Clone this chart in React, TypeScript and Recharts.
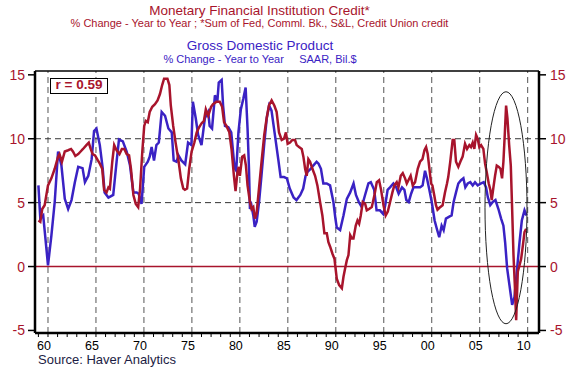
import React from 'react';
import { LineChart, Line, XAxis, YAxis, ReferenceLine, ReferenceDot } from 'recharts';

const RED = '#A8142C';
const BLUE = '#3A22C4';

// [year, % change y/y]
const gdpPoints: [number, number][] = [
  [1959.0, 6.35], [1959.2, 3.75], [1959.5, 4.0], [1960.0, 0.1], [1960.35, 2.4], [1960.7, 5.05],
  [1961.05, 9.0], [1961.4, 7.9], [1961.75, 5.3], [1962.1, 4.5], [1962.45, 5.2], [1962.8, 6.6],
  [1963.15, 7.8], [1963.6, 7.7], [1963.85, 6.6], [1964.2, 7.1], [1964.55, 8.4], [1964.8, 10.6],
  [1965.05, 10.8], [1965.4, 9.5], [1965.7, 7.7], [1965.9, 5.8], [1966.3, 5.4], [1966.8, 5.6],
  [1967.15, 8.2], [1967.4, 9.95], [1967.8, 9.8], [1968.2, 9.0], [1968.55, 7.9], [1968.9, 5.8],
  [1969.25, 5.8], [1969.45, 5.7], [1969.75, 4.9], [1970.03, 7.8], [1970.4, 8.2], [1970.6, 8.6],
  [1970.8, 9.35], [1971.05, 8.3], [1971.3, 9.5], [1971.55, 9.7], [1971.85, 12.1], [1972.2, 11.8],
  [1972.55, 10.8], [1972.9, 10.5], [1973.1, 8.3], [1973.4, 8.2], [1973.6, 8.7], [1973.9, 8.3],
  [1974.3, 8.0], [1974.6, 9.7], [1974.95, 9.5], [1975.1, 12.9], [1975.4, 11.6], [1975.65, 10.3],
  [1976.0, 9.5], [1976.35, 11.6], [1976.7, 12.1], [1976.85, 11.0], [1977.1, 10.8], [1977.4, 13.4],
  [1977.65, 12.9], [1977.8, 14.4], [1978.1, 14.6], [1978.25, 12.6], [1978.45, 11.0], [1978.8, 10.9],
  [1979.1, 10.5], [1979.45, 7.7], [1979.62, 7.5], [1979.85, 10.5], [1980.1, 12.3], [1980.35, 13.1],
  [1980.6, 14.0], [1980.8, 10.8], [1980.95, 7.65], [1981.05, 4.5], [1981.2, 4.8], [1981.4, 4.0],
  [1981.55, 3.1], [1981.75, 3.5], [1982.0, 5.05], [1982.25, 7.1], [1982.55, 9.7], [1982.8, 11.6],
  [1983.05, 12.6], [1983.3, 12.2], [1983.65, 10.3], [1984.0, 8.4], [1984.25, 7.0], [1984.6, 7.0],
  [1984.9, 6.9], [1985.2, 6.1], [1985.6, 5.4], [1985.9, 5.2], [1986.3, 5.6], [1986.6, 6.1],
  [1986.85, 7.1], [1987.05, 7.4], [1987.4, 7.65], [1987.65, 7.9], [1988.0, 8.2], [1988.2, 8.05],
  [1988.45, 7.65], [1988.7, 6.5], [1989.05, 6.5], [1989.4, 6.35], [1989.75, 5.05], [1989.95, 3.8],
  [1990.1, 3.05], [1990.45, 2.85], [1990.8, 4.0], [1991.15, 5.3], [1991.5, 5.8], [1991.85, 6.5],
  [1992.1, 5.6], [1992.4, 5.05], [1992.7, 4.65], [1993.05, 5.6], [1993.4, 6.5], [1993.65, 6.6],
  [1994.0, 6.0], [1994.25, 4.4], [1994.6, 4.4], [1994.95, 4.1], [1995.15, 4.8], [1995.4, 6.0],
  [1995.65, 6.2], [1996.0, 6.5], [1996.3, 6.2], [1996.55, 5.7], [1996.9, 6.2], [1997.15, 6.0],
  [1997.35, 5.2], [1997.6, 5.05], [1997.85, 5.7], [1998.1, 6.2], [1998.45, 6.2], [1998.8, 6.2],
  [1999.05, 6.35], [1999.3, 7.5], [1999.5, 6.9], [1999.75, 6.0], [2000.0, 5.05], [2000.3, 3.6],
  [2000.55, 2.9], [2000.78, 2.3], [2001.03, 3.2], [2001.24, 2.85], [2001.48, 3.75], [2001.83, 3.9],
  [2002.07, 4.0], [2002.28, 5.05], [2002.53, 5.8], [2002.77, 6.5], [2003.05, 6.75], [2003.3, 6.9],
  [2003.5, 6.2], [2003.75, 6.5], [2004.02, 6.6], [2004.27, 6.35], [2004.51, 6.6], [2004.79, 6.35],
  [2005.14, 6.5], [2005.42, 6.6], [2005.66, 6.2], [2005.84, 5.45], [2006.1, 4.8], [2006.36, 5.05],
  [2006.64, 5.2], [2006.95, 4.5], [2007.23, 3.75], [2007.47, 3.2], [2007.65, 1.9], [2007.86, -0.15],
  [2008.1, -1.45], [2008.38, -3.0], [2008.62, -2.4], [2008.9, -0.15], [2009.15, 1.9], [2009.39, 3.6],
  [2009.67, 4.4], [2009.88, 4.0],
];

const creditPoints: [number, number][] = [
  [1959.0, 3.6], [1959.2, 3.5], [1959.4, 4.5], [1959.65, 4.8], [1960.0, 6.35], [1960.35, 6.9],
  [1960.7, 7.65], [1961.05, 8.6], [1961.2, 8.8], [1961.45, 8.2], [1961.75, 9.0], [1962.1, 9.1],
  [1962.4, 9.2], [1962.6, 9.0], [1962.85, 8.65], [1963.15, 8.8], [1963.4, 9.0], [1963.65, 9.2],
  [1964.0, 9.5], [1964.25, 9.7], [1964.45, 9.2], [1964.65, 8.8], [1964.9, 8.7], [1965.2, 8.3],
  [1965.4, 8.05], [1965.65, 7.65], [1965.85, 6.0], [1966.1, 5.8], [1966.3, 6.2], [1966.45, 6.1],
  [1966.7, 8.2], [1966.9, 9.5], [1967.15, 9.1], [1967.45, 8.8], [1967.7, 9.2], [1967.95, 9.2],
  [1968.2, 8.8], [1968.45, 8.7], [1968.65, 7.65], [1968.9, 5.6], [1969.15, 4.9], [1969.4, 4.65],
  [1969.6, 6.1], [1969.83, 9.0], [1970.03, 11.0], [1970.2, 11.4], [1970.4, 11.3], [1970.6, 12.1],
  [1970.87, 12.5], [1971.15, 12.7], [1971.42, 13.0], [1971.67, 13.5], [1971.9, 14.2], [1972.1, 14.7],
  [1972.45, 14.7], [1972.65, 14.2], [1972.8, 12.6], [1973.05, 11.0], [1973.3, 9.7], [1973.6, 8.3],
  [1973.85, 6.9], [1974.1, 6.1], [1974.27, 6.0], [1974.5, 6.1], [1974.72, 7.65], [1974.97, 9.0],
  [1975.25, 9.7], [1975.5, 10.5], [1975.75, 10.9], [1976.0, 11.2], [1976.25, 11.4], [1976.45, 12.3],
  [1976.7, 11.8], [1977.0, 12.5], [1977.2, 12.7], [1977.57, 12.9], [1977.9, 12.9], [1978.15, 12.5],
  [1978.35, 11.3], [1978.6, 11.0], [1978.9, 10.5], [1979.13, 9.2], [1979.38, 7.1], [1979.55, 5.9],
  [1979.75, 7.4], [1979.88, 7.8], [1980.0, 7.1], [1980.24, 8.6], [1980.45, 8.7], [1980.63, 7.9],
  [1980.8, 6.35], [1981.05, 5.05], [1981.22, 4.5], [1981.4, 4.65], [1981.57, 3.75], [1981.74, 4.15],
  [1981.99, 6.1], [1982.26, 8.2], [1982.54, 10.3], [1982.79, 11.6], [1983.03, 12.6], [1983.31, 13.0],
  [1983.59, 12.6], [1983.83, 12.1], [1984.08, 10.5], [1984.36, 9.9], [1984.6, 10.0], [1984.8, 10.5],
  [1984.98, 9.6], [1985.23, 9.7], [1985.47, 9.9], [1985.75, 9.9], [1985.92, 9.5], [1986.17, 9.35],
  [1986.45, 9.2], [1986.62, 8.6], [1986.8, 7.65], [1986.97, 7.1], [1987.14, 8.4], [1987.32, 8.2],
  [1987.56, 7.65], [1987.84, 7.1], [1988.08, 6.35], [1988.36, 5.05], [1988.6, 4.0], [1988.81, 2.6],
  [1989.06, 2.6], [1989.23, 1.9], [1989.41, 1.55], [1989.65, 1.0], [1989.86, 0.6], [1990.1, -0.95],
  [1990.35, -1.45], [1990.63, -1.7], [1990.8, -0.8], [1990.97, -0.15], [1991.15, 0.5], [1991.32, 0.9],
  [1991.5, 2.45], [1991.67, 2.2], [1991.84, 2.2], [1992.08, 3.2], [1992.26, 3.6], [1992.43, 3.35],
  [1992.6, 4.0], [1992.81, 5.05], [1993.06, 4.9], [1993.23, 4.4], [1993.47, 4.5], [1993.75, 4.65],
  [1994.03, 5.6], [1994.27, 6.6], [1994.51, 6.75], [1994.72, 6.0], [1994.97, 4.8], [1995.2, 4.0],
  [1995.42, 4.3], [1995.66, 5.05], [1995.9, 5.8], [1996.1, 6.35], [1996.35, 6.6], [1996.53, 6.2],
  [1996.77, 7.1], [1996.98, 7.3], [1997.22, 6.9], [1997.4, 6.5], [1997.57, 6.75], [1997.8, 7.1],
  [1998.02, 6.35], [1998.26, 6.6], [1998.54, 7.65], [1998.78, 8.2], [1999.03, 8.4], [1999.24, 9.1],
  [1999.41, 9.35], [1999.58, 8.8], [1999.76, 7.65], [1999.93, 6.5], [2000.07, 6.35], [2000.28, 5.5],
  [2000.44, 4.8], [2000.6, 4.45], [2000.8, 4.6], [2001.13, 4.8], [2001.38, 5.8], [2001.59, 6.5],
  [2001.72, 7.0], [2001.93, 8.2], [2002.18, 9.9], [2002.35, 9.9], [2002.53, 8.2], [2002.77, 7.8],
  [2002.98, 8.2], [2003.22, 8.6], [2003.47, 9.6], [2003.68, 9.2], [2003.92, 9.5], [2004.09, 9.35],
  [2004.27, 9.7], [2004.44, 9.2], [2004.62, 10.3], [2004.79, 10.0], [2004.96, 9.35], [2005.14, 9.5],
  [2005.38, 9.2], [2005.56, 8.05], [2005.73, 7.4], [2005.94, 6.5], [2006.11, 6.0], [2006.25, 5.2],
  [2006.43, 6.2], [2006.6, 7.1], [2006.78, 7.9], [2006.99, 7.8], [2007.16, 7.65], [2007.33, 6.9],
  [2007.47, 8.2], [2007.61, 10.3], [2007.75, 12.6], [2007.89, 11.6], [2008.07, 9.5], [2008.24, 7.9],
  [2008.38, 4.5], [2008.52, 0.9], [2008.66, -1.45], [2008.8, -4.2], [2008.97, -0.4], [2009.15, 0.1],
  [2009.32, 0.6], [2009.5, 1.65], [2009.67, 2.7], [2009.84, 2.95],
];

const yTicks = [-5, 0, 5, 10, 15];
const yearTicks = Array.from({ length: 52 }, (_, i) => 1959 + i);
const gridYears = [1960, 1965, 1970, 1975, 1980, 1985, 1990, 1995, 2000, 2005, 2010];
const yDomain: [number, number] = [-5.2, 15.3];
const xDomain: [number, number] = [1958.645, 2011.18];

const gdpData = gdpPoints.map(([t, v]) => ({ t, v }));
const creditData = creditPoints.map(([t, v]) => ({ t, v }));

const font = '"Liberation Sans", Arial, sans-serif';

const YearTick = (props: any) => {
  const { x, y, payload } = props;
  if (payload.value % 5 !== 0) return null;
  const label = String(payload.value).slice(2);
  return (
    <text x={x - 4} y={y} dy={11} textAnchor="middle" fontSize={12.5} fill="#000" fontFamily={font}>
      {label}
    </text>
  );
};

const Oval = (props: any) => (
  <ellipse cx={props.cx} cy={props.cy} rx={21} ry={116} fill="none" stroke="#222" strokeWidth={1} />
);

export default function App() {
  return (
    <div style={{ position: 'absolute', left: 0, top: 0, width: 580, height: 371, background: '#fff', fontFamily: font }}>
      <div style={{ position: 'absolute', left: 0, width: 519, top: 4.4, textAlign: 'center', fontSize: 13.5, lineHeight: '13.5px', color: RED }}>
        Monetary Financial Institution Credit*
      </div>
      <div style={{ position: 'absolute', left: 0, width: 519, top: 17.9, textAlign: 'center', fontSize: 11, lineHeight: '11px', color: RED }}>
        % Change - Year to Year ; *Sum of Fed, Comml. Bk., S&amp;L, Credit Union credit
      </div>
      <div style={{ position: 'absolute', left: 0, width: 520, top: 39.1, textAlign: 'center', fontSize: 13.5, lineHeight: '13.5px', color: BLUE }}>
        Gross Domestic Product
      </div>
      <div style={{ position: 'absolute', left: 0, width: 520, top: 53.6, textAlign: 'center', fontSize: 11, lineHeight: '11px', color: BLUE, whiteSpace: 'pre' }}>
        {'% Change - Year to Year     SAAR, Bil.$'}
      </div>

      <LineChart width={580} height={371} margin={{ top: 71, right: 0, bottom: 0, left: 0 }}>
        <XAxis
          dataKey="t"
          type="number"
          domain={xDomain}
          ticks={yearTicks}
          allowDataOverflow
          height={38}
          tickSize={4}
          tickMargin={2}
          tick={<YearTick />}
          tickLine={{ stroke: '#000' }}
          axisLine={{ stroke: '#000', strokeWidth: 2.5 }}
          interval={0}
        />
        <YAxis
          yAxisId="l"
          type="number"
          domain={yDomain}
          ticks={yTicks}
          allowDataOverflow
          width={35}
          tickSize={7}
          tickMargin={3}
          tick={{ fill: RED, fontSize: 14, fontFamily: font }}
          tickLine={{ stroke: '#000', strokeWidth: 1.5 }}
          axisLine={{ stroke: '#000', strokeWidth: 2.5 }}
          interval={0}
        />
        <YAxis
          yAxisId="r"
          orientation="right"
          type="number"
          domain={yDomain}
          ticks={yTicks}
          allowDataOverflow
          width={41}
          tickSize={7}
          tickMargin={4}
          tick={{ fill: RED, fontSize: 14, fontFamily: font }}
          tickLine={{ stroke: '#000', strokeWidth: 1.5 }}
          axisLine={{ stroke: '#000', strokeWidth: 2.5 }}
          interval={0}
        />
        {gridYears.map((yr) => (
          <ReferenceLine key={yr} yAxisId="l" x={yr} stroke="#555" strokeDasharray="6 4" strokeWidth={1} />
        ))}
        <ReferenceLine yAxisId="l" y={5} stroke="#333" strokeDasharray="6 4" strokeWidth={1} />
        <ReferenceLine yAxisId="l" y={10} stroke="#333" strokeDasharray="6 4" strokeWidth={1} />
        <ReferenceLine yAxisId="l" y={yDomain[1]} stroke="#000" strokeWidth={1.5} />
        <ReferenceLine yAxisId="l" y={0} stroke={RED} strokeWidth={1.5} />
        <Line
          yAxisId="l"
          data={gdpData}
          dataKey="v"
          type="linear"
          stroke={BLUE}
          strokeWidth={2.5}
          dot={false}
          isAnimationActive={false}
        />
        <Line
          yAxisId="l"
          data={creditData}
          dataKey="v"
          type="linear"
          stroke={RED}
          strokeWidth={2.5}
          dot={false}
          isAnimationActive={false}
        />
        <ReferenceDot yAxisId="l" x={2007.74} y={4.6} shape={<Oval />} />
      </LineChart>

      <div
        style={{
          position: 'absolute', left: 50, top: 78, width: 58, height: 15.5, boxSizing: 'border-box',
          border: '1.5px solid #000', background: '#fff', color: RED, fontWeight: 'bold',
          fontSize: 13.5, lineHeight: '12.5px', textAlign: 'center',
        }}
      >
        r = 0.59
      </div>
      <div style={{ position: 'absolute', left: 38, top: 352.6, fontSize: 13, lineHeight: '13px', color: '#1c1c44' }}>
        Source: Haver Analytics
      </div>
    </div>
  );
}
